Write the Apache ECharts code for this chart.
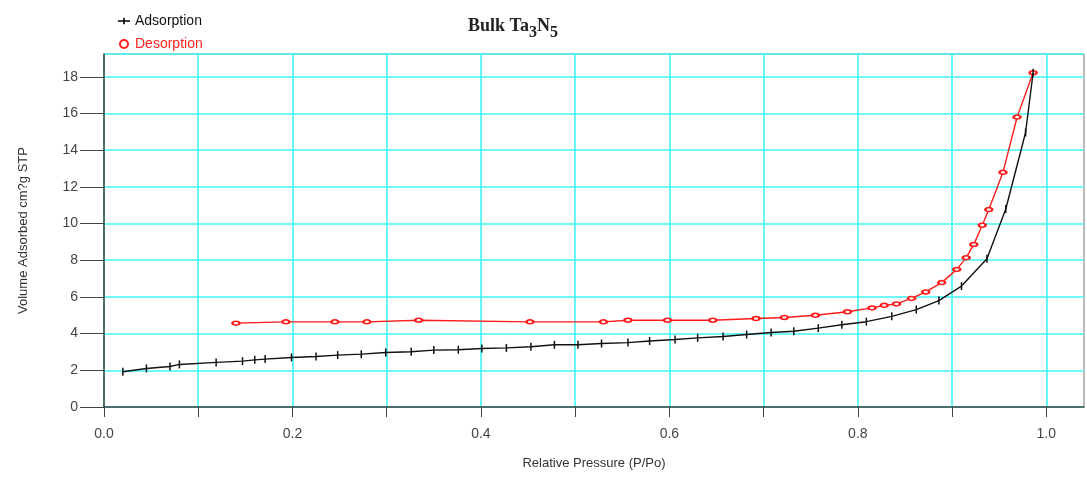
<!DOCTYPE html>
<html><head><meta charset="utf-8">
<script src="https://cdn.jsdelivr.net/npm/echarts@6/dist/echarts.min.js"></script>
<style>html,body{margin:0;padding:0;background:#fff}#c{width:1087px;height:478px}</style>
</head><body><div id="c"></div>
<script>
const adsX = [0.020,0.045,0.070,0.080,0.119,0.147,0.160,0.171,0.199,0.225,0.248,0.273,0.299,0.326,0.350,0.376,0.401,0.427,0.453,0.478,0.503,0.528,0.556,0.579,0.606,0.630,0.657,0.682,0.708,0.732,0.758,0.783,0.809,0.836,0.862,0.886,0.910,0.937,0.957,0.978,0.986];
const adsY = [1.92,2.10,2.21,2.32,2.43,2.50,2.57,2.61,2.70,2.75,2.83,2.88,2.97,3.01,3.10,3.12,3.19,3.22,3.28,3.39,3.39,3.46,3.51,3.60,3.68,3.77,3.84,3.95,4.06,4.13,4.30,4.48,4.65,4.94,5.31,5.80,6.59,8.08,10.79,14.96,18.22];
const desX = [0.140,0.193,0.245,0.279,0.334,0.452,0.530,0.556,0.598,0.646,0.692,0.722,0.755,0.789,0.815,0.828,0.841,0.857,0.872,0.889,0.905,0.915,0.923,0.932,0.939,0.954,0.969,0.986];
const desY = [4.57,4.64,4.64,4.64,4.73,4.64,4.64,4.73,4.73,4.73,4.82,4.88,5.00,5.19,5.40,5.54,5.62,5.92,6.27,6.78,7.50,8.14,8.86,9.91,10.76,12.79,15.80,18.22];
const xTicks = [0,0.1,0.2,0.3,0.4,0.5,0.6,0.7,0.8,0.9,1.0];
const xLabels = [0,0.2,0.4,0.6,0.8,1.0];

const ads = adsX.map((x,i)=>[x,adsY[i]]);
const des = desX.map((x,i)=>[x,desY[i]]);

const chart = echarts.init(document.getElementById('c'));
chart.setOption({
  animation:false,
  backgroundColor:'#fff',
  title:{
    text:'Bulk Ta{s|3}N{s|5}',
    left:463, top:6,
    textStyle:{fontFamily:'Liberation Serif',fontWeight:'bold',fontSize:18,color:'#222',
      rich:{s:{fontFamily:'Liberation Serif',fontWeight:'bold',fontSize:16,color:'#222',padding:[14,0,0,0]}}}
  },
  legend:{
    orient:'vertical', left:113, top:9, itemGap:9, itemWidth:12, itemHeight:8,
    textStyle:{fontFamily:'Liberation Sans',fontSize:14},
    data:[
      {name:'Adsorption', icon:'path://M0,4h12v1.5h-12z M5.2,1.5h1.6v6.5h-1.6z', itemStyle:{color:'#000'}, textStyle:{color:'#111'}},
      {name:'Desorption', icon:'emptyCircle', textStyle:{color:'#ff2020'}}
    ]
  },
  grid:{left:104,right:3,top:54,bottom:71,show:true,borderColor:'#777',borderWidth:1},
  xAxis:{
    type:'value', min:0, max:1.04, interval:0.1,
    name:'Relative Pressure (P/Po)', nameLocation:'middle', nameGap:50,
    nameTextStyle:{fontFamily:'Liberation Sans',fontSize:13,color:'#333'},
    axisLine:{show:true,onZero:false,lineStyle:{color:'#444',width:1.5}},
    axisTick:{show:true,length:10,lineStyle:{color:'#444'},customValues:xTicks},
    axisLabel:{customValues:xLabels,formatter:v=>v.toFixed(1),margin:20,fontFamily:'Liberation Sans',fontSize:14,color:'#444'},
    splitLine:{show:true,lineStyle:{color:'#3ff7f7',width:1.6}}
  },
  yAxis:{
    type:'value', min:0, max:19.24, interval:2,
    name:'Volume Adsorbed cm?g STP', nameLocation:'middle', nameGap:74,
    nameTextStyle:{fontFamily:'Liberation Sans',fontSize:13,color:'#333'},
    axisLine:{show:true,lineStyle:{color:'#444',width:1.5}},
    axisTick:{show:true,length:24,lineStyle:{color:'#444'}},
    axisLabel:{showMaxLabel:false,margin:26,fontFamily:'Liberation Sans',fontSize:14,color:'#444'},
    splitLine:{show:true,lineStyle:{color:'#3ff7f7',width:1.6}}
  },
  series:[
    {name:'Adsorption',type:'line',data:ads,symbol:'rect',symbolSize:[1.5,8],
      lineStyle:{color:'#111',width:1.4},itemStyle:{color:'#111'},z:3},
    {name:'Desorption',type:'line',data:des,symbol:'emptyCircle',symbolSize:[7,4],
      lineStyle:{color:'#ff1a1a',width:1.4},itemStyle:{color:'#ff1a1a',borderWidth:1.2},z:2}
  ]
});
</script></body></html>
